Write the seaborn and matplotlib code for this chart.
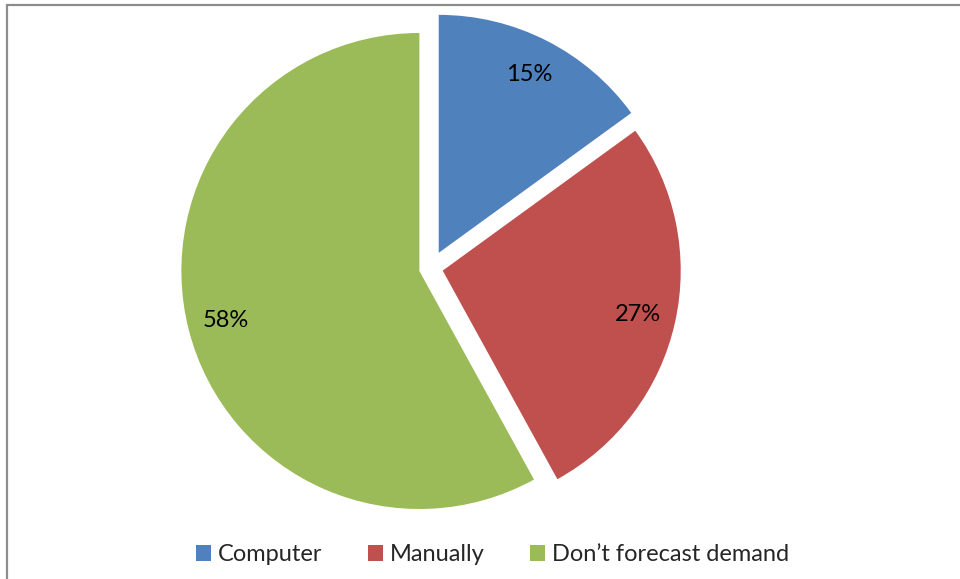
import matplotlib
matplotlib.use("Agg")
import matplotlib.pyplot as plt
import seaborn as sns
from matplotlib.patches import Patch
from matplotlib.lines import Line2D

labels = ["Computer", "Manually", "Don\u2019t forecast demand"]
shares = [15, 27, 58]
colors = ["#4F81BD", "#C0504D", "#9BBB59"]

sns.set_style("white")
plt.rcParams['font.family'] = ['Lato', 'DejaVu Sans']

fig = plt.figure(figsize=(9.6, 5.79), dpi=100)
ax = fig.add_axes([0, 0, 1, 1])

# explode is in data units here, pie drawn in pixel-like coordinates
wedges, _, pcts = ax.pie(shares, colors=colors, startangle=90, counterclock=False,
                         explode=[17, 12, 12], center=(431, 311), radius=238,
                         autopct=lambda p: f"{p:.0f}%", pctdistance=0.84,
                         wedgeprops=dict(linewidth=0),
                         textprops=dict(fontsize=17, color="black"))
ax.set_xlim(0, 960)
ax.set_ylim(0, 579)
ax.set_aspect("equal")
ax.axis("off")

# chart frame (only top and left edges are visible)
fig.add_artist(Line2D([7, 960], [574, 574], transform=None, color="#8c8c8c", lw=1.6))
fig.add_artist(Line2D([7, 7], [0, 574], transform=None, color="#8c8c8c", lw=1.6))

handles = [Patch(facecolor=c, edgecolor="none") for c in colors]
fig.legend(handles, labels, loc="center", bbox_to_anchor=(0.513, 0.042), ncol=3,
           frameon=False, fontsize=17, handlelength=0.65, handleheight=0.65,
           handletextpad=0.3, columnspacing=1.9)

fig.savefig("out.png", dpi=100)
